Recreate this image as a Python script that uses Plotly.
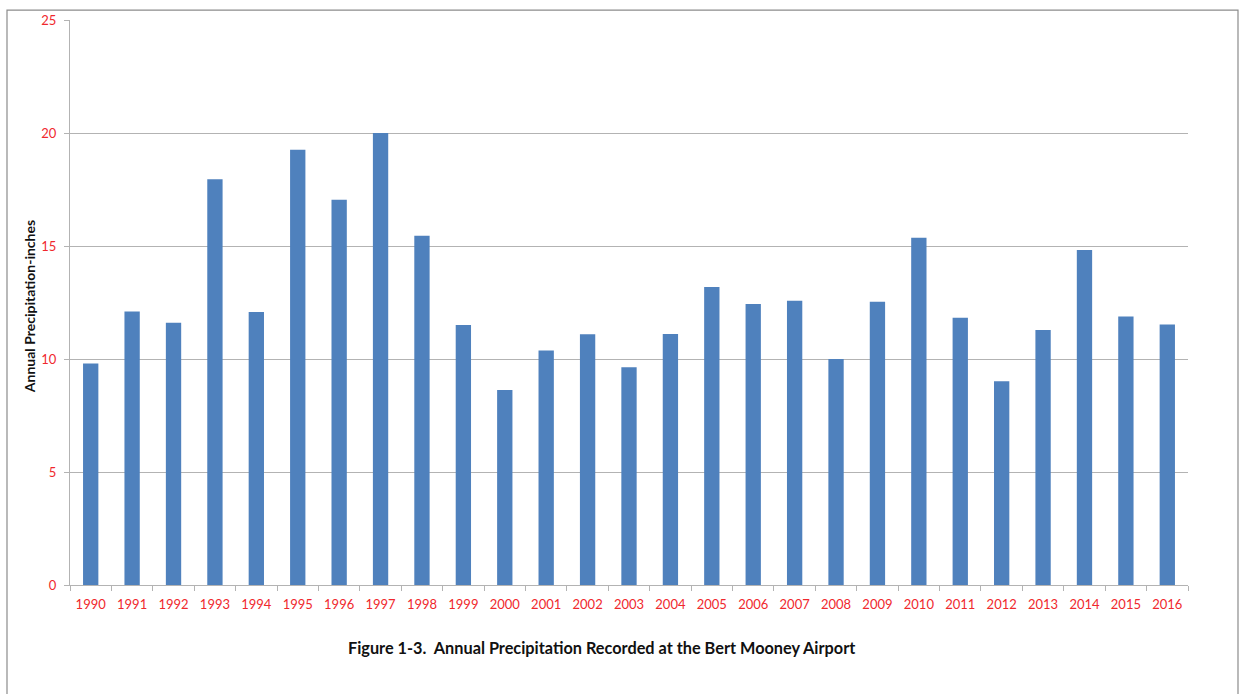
import plotly.graph_objects as go

years = [str(y) for y in range(1990, 2017)]
precip = [9.8, 12.1, 11.6, 17.95, 12.08, 19.26, 17.05, 20.0, 15.45, 11.5,
          8.63, 10.38, 11.09, 9.64, 11.11, 13.19, 12.43, 12.58, 10.0, 12.53,
          15.36, 11.82, 9.01, 11.28, 14.82, 11.88, 11.53]
y_ticks = [0, 5, 10, 15, 20, 25]

FONT = "Lato, 'Open Sans', sans-serif"
RED = "#f0282d"
GRID = "#b3b3b3"

fig = go.Figure()
fig.add_trace(go.Bar(x=years, y=precip, marker=dict(color="#4f81bd", line=dict(width=0)),
                     hoverinfo="x+y"))

fig.update_layout(
    width=1241, height=694,
    margin=dict(l=70, r=53, t=17, b=109),
    paper_bgcolor="white", plot_bgcolor="white",
    bargap=0.63,
    showlegend=False,
    font=dict(family=FONT, size=13, color=RED),
    annotations=[
        dict(text="<b>Figure 1-3.  Annual Precipitation Recorded at the Bert Mooney Airport</b>",
             xref="paper", yref="paper", x=0.475, y=-0.111, xanchor="center", yanchor="middle",
             showarrow=False, font=dict(family=FONT, size=16.3, color="#111111")),
        dict(text="<b>Annual Precipitation-inches</b>", textangle=-90,
             xref="paper", yref="paper", x=-0.036, y=0.493, xanchor="center", yanchor="middle",
             showarrow=False, font=dict(family=FONT, size=14, color="#111111")),
    ],
    shapes=[
        dict(type="rect", xref="paper", yref="paper",
             x0=-63/1118, x1=(1238-70)/1118, y0=-125/568, y1=1 + 10/568,
             line=dict(color="#8c8c8c", width=1.2), fillcolor="rgba(0,0,0,0)", layer="below"),
    ],
)

fig.update_xaxes(
    type="category", showline=True, linecolor=GRID, linewidth=1,
    ticks="outside", tickson="boundaries", ticklen=5, tickcolor=GRID,
    tickfont=dict(family=FONT, size=13, color=RED), showgrid=False,
    ticklabelstandoff=7,
)
fig.update_yaxes(
    range=[0, 25], tickvals=y_ticks, ticktext=[str(v) for v in y_ticks],
    showline=True, linecolor=GRID, linewidth=1,
    ticks="outside", ticklen=5, tickcolor=GRID,
    showgrid=True, gridcolor=GRID, gridwidth=1, zeroline=False,
    tickfont=dict(family=FONT, size=13, color=RED), ticklabelstandoff=5,
)

fig.write_html("out.html", config={"displayModeBar": False},
               post_script="document.body.style.margin='0';document.body.style.overflow='hidden';")
